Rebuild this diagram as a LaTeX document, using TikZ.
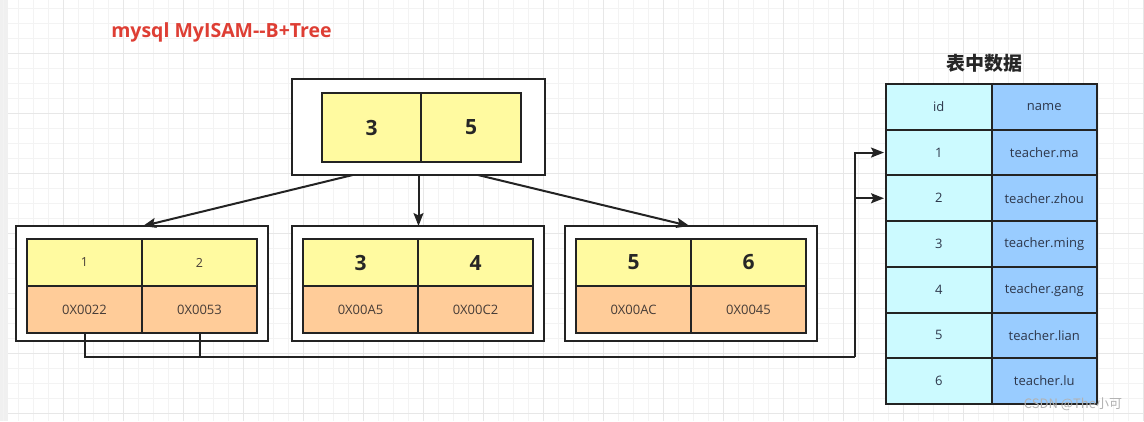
\documentclass[tikz,border=0pt]{standalone}
\usepackage{fontspec}
\setmainfont{Open Sans}
\newfontfamily\cjk{Noto Sans CJK SC}
\usepackage{tikz}
\usetikzlibrary{arrows.meta,positioning,calc}
\definecolor{linecol}{RGB}{35,35,35}
\definecolor{keyyellow}{RGB}{255,250,160}
\definecolor{ptrorange}{RGB}{255,204,153}
\definecolor{idcyan}{RGB}{204,250,255}
\definecolor{nameblue}{RGB}{153,204,255}
\definecolor{titlered}{RGB}{222,62,52}
\definecolor{celltext}{RGB}{70,60,55}
\definecolor{tabtext}{RGB}{45,55,75}
\definecolor{minorgrid}{RGB}{243,243,243}
\definecolor{majorgrid}{RGB}{231,231,231}
\tikzset{
  frame/.style={rectangle, draw=linecol, line width=2.2pt, fill=white, outer sep=0pt,
                minimum width=252pt, minimum height=115pt},
  cell/.style={rectangle, draw=linecol, line width=1.8pt, outer sep=0pt, inner sep=0pt,
               minimum width=115pt, minimum height=47pt},
  keycell/.style={cell, fill=keyyellow},
  ptrcell/.style={cell, fill=ptrorange, text=celltext, font=\fontsize{13}{15}\selectfont},
  bigkey/.style={text=black!85, font=\bfseries\fontsize{21}{24}\selectfont},
  smallkey/.style={text=celltext, font=\fontsize{12.5}{14}\selectfont},
  tabcell/.style={rectangle, draw=linecol, line width=2pt, outer sep=0pt, inner sep=0pt,
                  minimum width=105.5pt, minimum height=45.7pt, text=tabtext,
                  font=\fontsize{13}{15}\selectfont},
  idcell/.style={tabcell, fill=idcyan},
  namecell/.style={tabcell, fill=nameblue},
  arrow/.style={-{Stealth[length=13pt, width=10pt, inset=2.5pt]}, line width=2pt, linecol},
  link/.style={line width=2pt, linecol},
}

\begin{document}
\begin{tikzpicture}[x=1pt, y=-1pt]
\useasboundingbox (0,0) rectangle (1144,421);
\fill[white] (0,0) rectangle (1144,421);
\fill[black!6] (0,0) rectangle (8,421);
\foreach \x in {3,18,...,1143} \draw[minorgrid, line width=0.8pt] (\x,0) -- (\x,421);
\foreach \y in {8,23,...,420} \draw[minorgrid, line width=0.8pt] (8,\y) -- (1144,\y);
\foreach \x in {63,123,...,1143} \draw[majorgrid, line width=0.9pt] (\x,0) -- (\x,421);
\foreach \y in {53,113,...,420} \draw[majorgrid, line width=0.9pt] (8,\y) -- (1144,\y);

\node[text=titlered, font=\bfseries\fontsize{19.5}{23}\selectfont] (title) at (221.5,32) {mysql MyISAM-{}-B+Tree};

% root page
\node[frame, minimum height=96pt, minimum width=253pt] (root) at (418.5,127) {};
\node[keycell, bigkey, minimum width=99pt, minimum height=69pt] (r1) at (371.5,127.5) {3};
\node[keycell, bigkey, minimum width=100pt, minimum height=69pt, right=0pt of r1] (r2) {5};

% leaf pages
\foreach \leaf/\lx/\ka/\kb/\pa/\pb/\kf in {la/16/1/2/0X0022/0X0053/smallkey,
    lb/292/3/4/0X00A5/0X00C2/bigkey, lc/565/5/6/0X00AC/0X0045/bigkey} {
  \node[frame, anchor=north west] (\leaf) at (\lx,226) {};
  \node[keycell, \kf, anchor=north west] (\leaf-k1) at (\lx+11,239) {\ka};
  \node[keycell, \kf, right=0pt of \leaf-k1] (\leaf-k2) {\kb};
  \node[ptrcell, below=0pt of \leaf-k1] (\leaf-p1) {\pa};
  \node[ptrcell, below=0pt of \leaf-k2] (\leaf-p2) {\pb};
}

\draw[arrow] ($(root.south west)!0.24!(root.south east)$) -- ($(la.north)+(1,0)$);
\draw[arrow] (root.south) -- (root.south |- lb.north);
\draw[arrow] ($(root.south west)!0.735!(root.south east)$) -- ($(lc.north)+(-1.5,0)$);

% table data
\node[font=\cjk\bfseries\fontsize{19}{22}\selectfont, text=black!85] (tabtitle) at (984,63) {表中数据};
\foreach \r/\id/\nm [count=\k from 0] in {h/id/name, t1/1/teacher.ma, t2/2/teacher.zhou,
    t3/3/teacher.ming, t4/4/teacher.gang, t5/5/teacher.lian, t6/6/teacher.lu} {
  \node[idcell, anchor=north west] (\r) at (886,84+45.7*\k) {\id};
  \node[namecell, right=0pt of \r] (\r-n) {\nm};
}

\coordinate (bus) at (855,357);
\draw[link] (la-p1.south) |- (bus);
\draw[link] (la-p2.south) -- (la-p2.south |- bus);
\draw[arrow] (bus) |- ($(t1.west)+(-2,0)$);
\draw[arrow] (bus) |- ($(t2.west)+(-2,0)$);

\node[text=black!30, font=\cjk\fontsize{13}{15}\selectfont] (mark) at (1073,404) {CSDN @The小可};
\end{tikzpicture}
\end{document}
